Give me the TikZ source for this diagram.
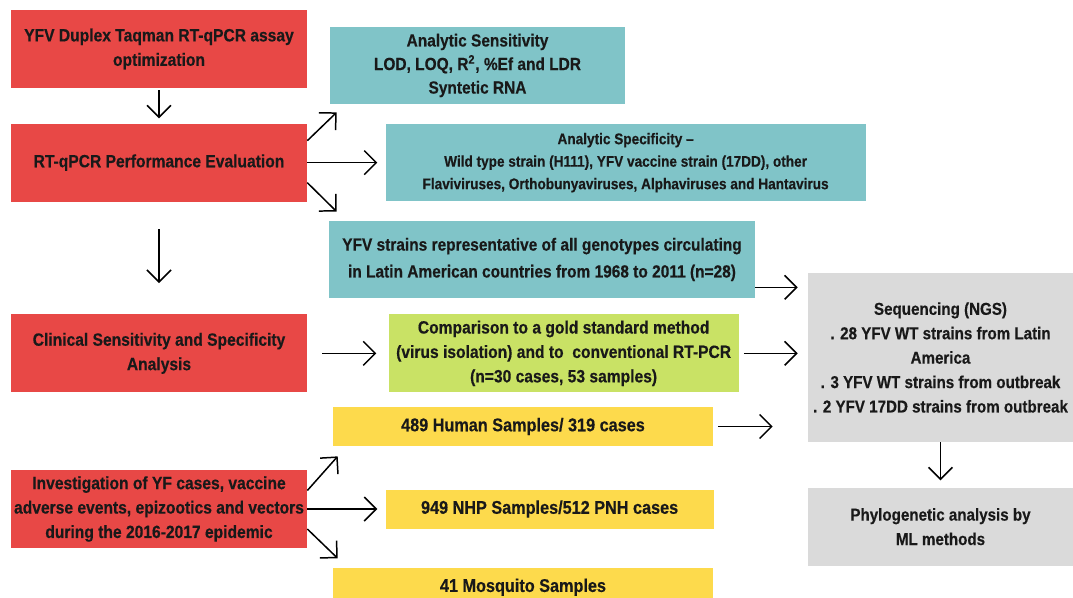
\documentclass[tikz,border=0pt]{standalone}
\usepackage{fontspec}
\setmainfont{Liberation Sans}[FakeStretch=0.88, BoldFeatures={FakeBold=0.4}]
\usetikzlibrary{positioning,arrows.meta}

\definecolor{boxred}{HTML}{E84846}
\definecolor{boxteal}{HTML}{80C4C8}
\definecolor{boxgreen}{HTML}{C9E265}
\definecolor{boxyellow}{HTML}{FDDA4C}
\definecolor{boxgrey}{HTML}{DADADA}

\begin{document}
\begin{tikzpicture}[
    x=0.02cm, y=-0.02cm,
    every node/.style={font=\bfseries\fontsize{10.1}{13.9}\selectfont, text=black!90},
    box/.style={align=center, inner xsep=0pt, inner ysep=2pt},
    redbox/.style={box, fill=boxred, minimum width=5.92cm, minimum height=1.56cm},
    tealbox/.style={box, fill=boxteal, minimum height=1.54cm},
    greenbox/.style={box, fill=boxgreen, minimum width=7cm, minimum height=1.56cm},
    yelbox/.style={box, fill=boxyellow, minimum height=0.78cm, font=\bfseries\fontsize{10.5}{14}\selectfont},
    greybox/.style={box, fill=boxgrey, minimum width=5.3cm, font=\bfseries\fontsize{9.8}{13.9}\selectfont},
    arr/.style={-{Straight Barb[length=0.24cm,width=0.48cm]}, line width=0.85pt}
  ]
    \useasboundingbox (0,0) rectangle (1073,598);

    % left column
    \node[redbox] (optim) at (159,49) {YFV Duplex Taqman RT-qPCR assay\\optimization};
    \node[redbox, below=0.7cm of optim] (perf) {RT-qPCR Performance Evaluation};
    \node[redbox, below=2.24cm of perf] (clinic) {Clinical Sensitivity and Specificity\\Analysis};
    \node[redbox, below=1.54cm of clinic] (invest) {Investigation of YF cases, vaccine\\adverse events, epizootics and vectors\\during the 2016-2017 epidemic};

    % performance evaluation
    \node[tealbox, minimum width=5.9cm, font=\bfseries\fontsize{10}{13.4}\selectfont] (asens) at (477.5,65.5) {Analytic Sensitivity\\LOD, LOQ, R\textsuperscript{2}, \%Ef and LDR\\Syntetic RNA};
    \node[tealbox, minimum width=9.6cm, right=1.56cm of perf, font=\bfseries\fontsize{8.8}{12.8}\selectfont] (aspec) {Analytic Specificity --\\Wild type strain (H111), YFV vaccine strain (17DD), other\\Flaviviruses, Orthobunyaviruses, Alphaviruses and Hantavirus};
    \node[tealbox, minimum width=8.52cm, font=\bfseries\fontsize{10}{15.3}\selectfont] (strains) at (542,259.5) {YFV strains representative of all genotypes circulating\\in Latin American countries from 1968 to 2011 (n=28)};

    \node[greenbox, right=1.62cm of clinic] (compare) {Comparison to a gold standard method\\(virus isolation) and to \ conventional RT-PCR\\(n=30 cases, 53 samples)};

    % samples
    \node[yelbox, minimum width=7.6cm] (human) at (523,426.5) {489 Human Samples/ 319 cases};
    \node[yelbox, minimum width=6.56cm, right=1.56cm of invest] (nhp) {949 NHP Samples/512 PNH cases};
    \node[yelbox, minimum width=7.6cm, below=2.42cm of human] (mosq) {41 Mosquito Samples};

    % right column
    \node[greybox, minimum height=3.38cm] (ngs) at (940.5,357.5) {Sequencing (NGS)\\. 28 YFV WT strains from Latin\\America\\. 3 YFV WT strains from outbreak\\. 2 YFV 17DD strains from outbreak};
    \node[greybox, minimum height=1.56cm, below=0.9cm of ngs] (phylo) {Phylogenetic analysis by\\ML methods};

    \draw[arr, shorten <=0.04cm, shorten >=0.1cm] (optim) -- (perf);
    \draw[arr] ([yshift=0.44cm]perf.east) -- ([shift={(7,8)}]asens.south west);
    \draw[arr, shorten >=0.16cm] (perf.east) -- (perf.east -| aspec.west);
    \draw[arr] ([yshift=-0.4cm]perf.east) -- ([shift={(8,-9)}]strains.north west);
    \draw[arr, shorten <=0.54cm, shorten >=0.62cm] (perf) -- (clinic);

    \coordinate (strout) at ([yshift=0.22cm]strains.south east);
    \draw[arr, shorten >=0.2cm] (strout) -- (strout -| ngs.west);
    \draw[arr, shorten <=0.3cm, shorten >=0.24cm] (clinic.east) -- (clinic.east -| compare.west);
    \draw[arr, shorten <=0.1cm, shorten >=0.2cm] (compare.east) -- (compare.east -| ngs.west);
    \draw[arr, shorten <=0.1cm, shorten >=0.7cm] (human.east) -- (human.east -| ngs.west);
    \draw[arr, shorten >=0.14cm] (ngs) -- (phylo);

    \draw[arr] ([yshift=0.37cm]invest.east) -- ([shift={(5,10)}]human.south west);
    \draw[arr, shorten >=0.16cm] (invest.east) -- (invest.east -| nhp.west);
    \draw[arr] ([yshift=-0.4cm]invest.east) -- ([shift={(5,-9)}]mosq.north west);
\end{tikzpicture}
\end{document}
